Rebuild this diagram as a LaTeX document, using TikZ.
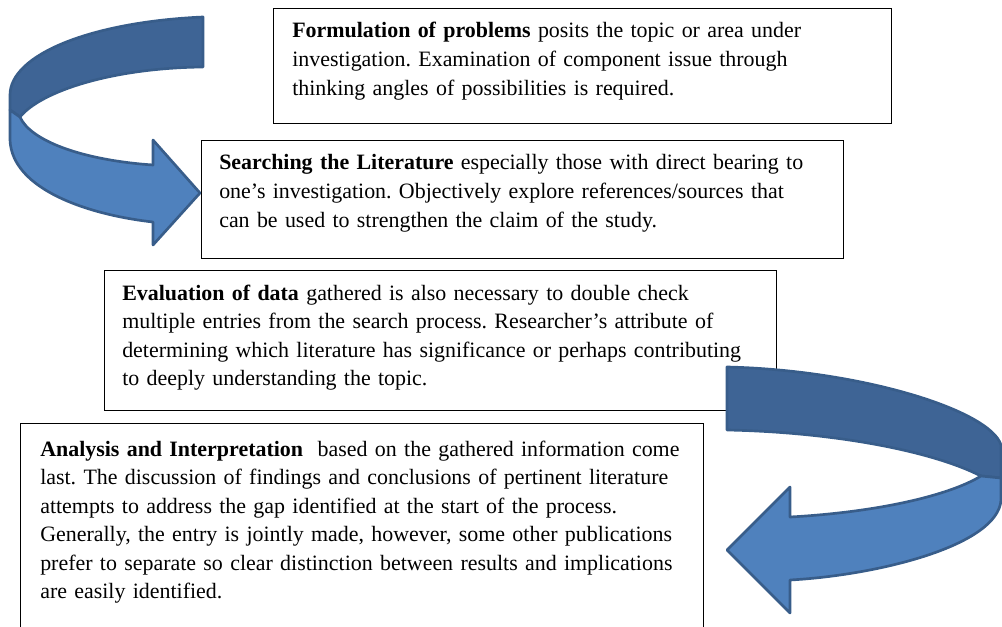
\documentclass[tikz,border=0pt]{standalone}
\usepackage{fontspec}
\setmainfont{Liberation Serif}
\usetikzlibrary{positioning}

\definecolor{arrowlight}{RGB}{79,129,189}
\definecolor{arrowdark}{RGB}{62,100,149}
\definecolor{arrowline}{RGB}{56,93,138}

\tikzset{
  box/.style={draw=black, line width=0.75pt, inner sep=0pt, anchor=north west},
  boxtext/.style={anchor=base west, inner sep=0pt, text width=520pt, align=left,
    font=\fontsize{16.45}{21.4}\selectfont},
  ribbon/.style={draw=arrowline, line width=2pt, line join=round}
}

\frenchspacing

\begin{document}
\begin{tikzpicture}[x=0.75pt, y=-0.75pt]

  % Page size (pixels of the reference)
  \def\W{1002}
  \def\H{627}
  \useasboundingbox (0,0) rectangle (\W,\H);
  \clip (0,0) rectangle (\W,\H);

  % Text boxes
  \node[box, minimum width=618*0.75pt, minimum height=115*0.75pt] (form) at (273,8) {};
  \node[box, minimum width=642*0.75pt, minimum height=118*0.75pt] (search) at (201,140) {};
  \node[box, minimum width=672*0.75pt, minimum height=140*0.75pt] (eval) at (104,270) {};
  \node[box, minimum width=683*0.75pt, minimum height=230*0.75pt] (anal) at (20,423) {};

  % Texts inside the boxes
  \node[boxtext] (formtext) at ([shift={(19,30)}]form.north west)
    {\textbf{Formulation of problems} posits the topic or area under\\
     investigation. Examination of component issue through\\
     thinking angles of possibilities is required.};
  \node[boxtext] (searchtext) at ([shift={(18,30)}]search.north west)
    {\textbf{Searching the Literature} especially those with direct bearing to\\
     one’s investigation. Objectively explore references/sources that\\
     can be used to strengthen the claim of the study.};
  \node[boxtext] (evaltext) at ([shift={(18,30)}]eval.north west)
    {\textbf{Evaluation of data} gathered is also necessary to double check\\
     multiple entries from the search process. Researcher’s attribute of\\
     determining which literature has significance or perhaps contributing\\
     to deeply understanding the topic.};
  \node[boxtext] (analtext) at ([shift={(20,33)}]anal.north west)
    {\textbf{Analysis and Interpretation}\ \ based on the gathered information come\\
     last. The discussion of findings and conclusions of pertinent literature\\
     attempts to address the gap identified at the start of the process.\\
     Generally, the entry is jointly made, however, some other publications\\
     prefer to separate so clear distinction between results and implications\\
     are easily identified.};

  % Arrow tips
  \coordinate (tipone) at (200,193);
  \coordinate (tiptwo) at (727,550);

  % Curved arrow, top left (back part, then front part with head)
  \filldraw[ribbon, fill=arrowdark] (203,17) .. controls (90,22) and (10,55) .. (10,95)
    -- (10,110) -- (20,117) .. controls (40,92) and (110,68) .. (203,67) -- cycle;
  \filldraw[ribbon, fill=arrowlight] (10,110) -- (10,140)
    .. controls (12,190) and (90,215) .. (153,222) -- (153,245)
    -- (tipone) -- (153,140) -- (153,165)
    .. controls (80,160) and (30,140) .. (20,117) -- cycle;

  % Curved arrow, bottom right
  \filldraw[ribbon, fill=arrowdark] (727,367) .. controls (860,370) and (990,410) .. (1001,445)
    -- (1001,478) -- (981,476) .. controls (930,450) and (830,432) .. (727,430) -- cycle;
  \filldraw[ribbon, fill=arrowlight] (981,476) -- (1001,478) -- (1001,500)
    .. controls (998,545) and (880,575) .. (790,580) -- (790,613)
    -- (tiptwo) -- (790,487) -- (790,517)
    .. controls (880,512) and (950,495) .. (981,476) -- cycle;

\end{tikzpicture}
\end{document}
